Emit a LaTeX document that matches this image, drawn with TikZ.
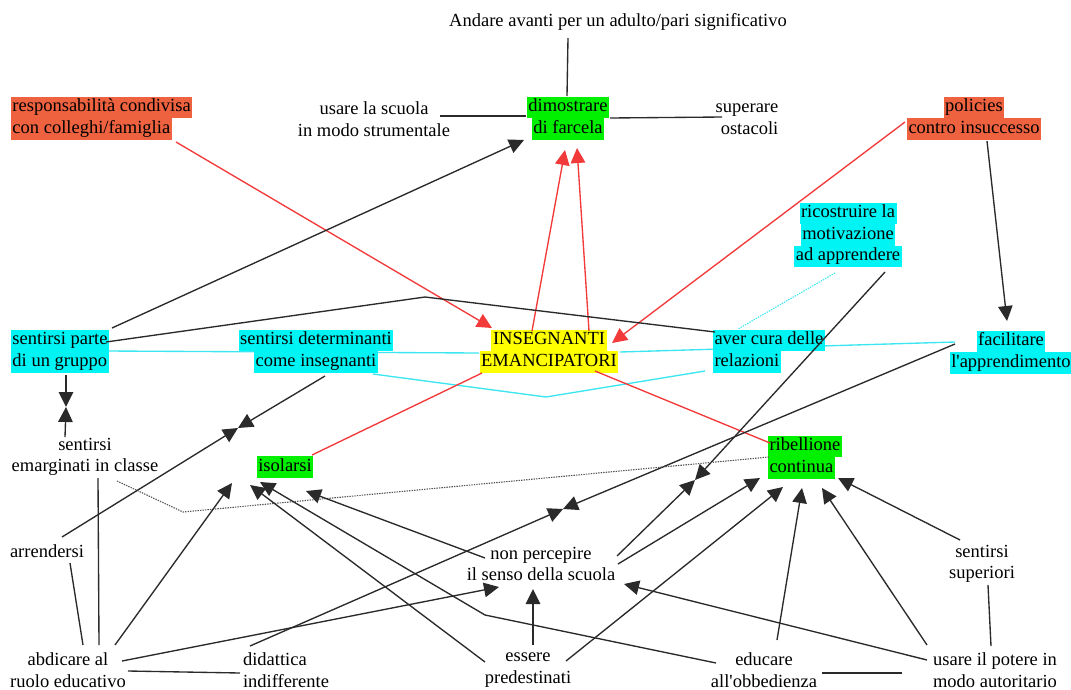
\documentclass[tikz,border=0pt]{standalone}
\usepackage{fontspec}
\setmainfont{Liberation Serif}
\usetikzlibrary{arrows.meta,backgrounds}
\definecolor{hlorange}{HTML}{EE6240}
\definecolor{hlgreen}{HTML}{00F000}
\definecolor{hlcyan}{HTML}{00F4F4}
\definecolor{hlyellow}{HTML}{FFFF00}
\definecolor{linkred}{HTML}{F23A3A}
\definecolor{linkcyan}{HTML}{3CE6F0}
\definecolor{linkgray}{HTML}{2A2A2A}
\definecolor{dotgray}{HTML}{555555}
% one highlighted line of text, boxes of consecutive lines touch
\newcommand{\hlbox}[2]{{\fboxsep=0pt\colorbox{#1}{\kern1.5pt\strut#2\kern1.5pt}}}
\begin{document}
\begin{tikzpicture}[x=1pt,y=-1pt,
  every node/.style={font=\fontsize{18.5}{21.5}\selectfont, inner sep=0pt, outer sep=0pt},
  concept/.style={align=center},
  conn/.style={draw=linkgray, line width=1.35pt},
  tipline/.style={conn, -{Triangle[length=15pt,width=14.5pt]}},
  redconn/.style={draw=linkred, line width=1.35pt},
  redtip/.style={redconn, -{Triangle[length=15pt,width=14.5pt]}},
  cyanconn/.style={draw=linkcyan, line width=1.35pt},
  dotconn/.style={draw=dotgray, line width=1.1pt, dash pattern=on 1.4pt off 1.1pt},
  cyandot/.style={draw=linkcyan, line width=1.1pt, dash pattern=on 1.4pt off 1.1pt}
]
\useasboundingbox (0,0) rectangle (1071,689);

% ---- concepts ----
\node[concept] (andare) at (618,22) {Andare avanti per un adulto/pari significativo};
\node[concept] (dim) at (568,118) {\hlbox{hlgreen}{dimostrare}\\\hlbox{hlgreen}{di farcela}};
\node[concept] (usare) at (374,119) {usare la scuola\\in modo strumentale};
\node[align=right] (sup) at (747,119) {superare\\ostacoli};
\node[align=left, anchor=west] (resp) at (11,118) {\hlbox{hlorange}{responsabilità condivisa}\\\hlbox{hlorange}{con colleghi/famiglia}};
\node[concept] (pol) at (974,118) {\hlbox{hlorange}{policies}\\\hlbox{hlorange}{contro insuccesso}};
\node[concept] (ric) at (848,235) {\hlbox{hlcyan}{ricostruire la}\\\hlbox{hlcyan}{motivazione}\\\hlbox{hlcyan}{ad apprendere}};
\node[align=left, anchor=west] (sp) at (11,351) {\hlbox{hlcyan}{sentirsi parte}\\\hlbox{hlcyan}{di un gruppo}};
\node[concept] (sd) at (316,351) {\hlbox{hlcyan}{sentirsi determinanti}\\\hlbox{hlcyan}{come insegnanti}};
\node[concept] (ins) at (549,351) {\hlbox{hlyellow}{INSEGNANTI}\\\hlbox{hlyellow}{EMANCIPATORI}};
\node[align=left, anchor=west] (ac) at (713,351) {\hlbox{hlcyan}{aver cura delle}\\\hlbox{hlcyan}{relazioni}};
\node[concept] (fac) at (1011,352) {\hlbox{hlcyan}{facilitare}\\\hlbox{hlcyan}{l\textquotesingle apprendimento}};
\node[concept] (em) at (85,457) {sentirsi\\emarginati in classe};
\node[concept] (iso) at (285,467) {\hlbox{hlgreen}{isolarsi}};
\node[align=left, anchor=west] (rib) at (768,457) {\hlbox{hlgreen}{ribellione}\\\hlbox{hlgreen}{continua}};
\node (arre) at (47,551) {arrendersi};
\node[concept] (np) at (541,564) {non percepire\\il senso della scuola};
\node[concept] (ss) at (982,564) {sentirsi\\superiori};
\node[concept] (abd) at (68,670) {abdicare al\\ruolo educativo};
\node[align=left, anchor=west] (did) at (243,670) {didattica\\indifferente};
\node[concept] (ess) at (528,670) {essere\\predestinati};
\node[concept] (edu) at (764,670) {educare\\all\textquotesingle obbedienza};
\node[concept] (pot) at (995,670) {usare il potere in\\modo autoritario};

% hidden linking points and bends
\coordinate (l1) at (66,407);
\coordinate (l2) at (238,428);
\coordinate (l3) at (695,480);
\coordinate (l4) at (563,509);
\coordinate (bendTop) at (425,297);
\coordinate (bendV) at (546,397);
\coordinate (bendDot) at (183,512);
\coordinate (bendEdu) at (485,615);

% ---- cyan links, behind the boxes ----
\begin{scope}[on background layer]
\draw[cyanconn] ([shift={(95,0)}]sp.west) -- ([shift={(-70,2)}]ins.center);
\draw[cyanconn] ([shift={(71,1)}]ins.center) -- ([shift={(-56,-10)}]fac.center);
\draw[cyanconn] ([shift={(57,23)}]sd.center) -- (bendV) -- ([shift={(-8,20)}]ac.west);
\draw[cyandot] ([shift={(-13,38)}]ric.center) -- ([shift={(25,-22)}]ac.west);
\end{scope}

% ---- top cluster ----
\draw[conn] ([shift={(-50,16)}]andare.center) -- ([shift={(-1,-22)}]dim.center);
\draw[conn] ([shift={(66,-3)}]usare.center) -- ([shift={(-42,-2)}]dim.center);
\draw[conn] ([shift={(42,0)}]dim.center) -- ([shift={(-25,-2)}]sup.center);

% ---- red links ----
\draw[redtip] ([shift={(165,24)}]resp.west) -- ([shift={(-57,-23)}]ins.center);
\draw[redtip] ([shift={(-69,4)}]pol.center) -- ([shift={(63,-8)}]ins.center);
\draw[redtip] ([shift={(-17,-20)}]ins.center) -- ([shift={(-3,32)}]dim.center);
\draw[redtip] ([shift={(40,-20)}]ins.center) -- ([shift={(9,30)}]dim.center);
\draw[redconn] ([shift={(-67,22)}]ins.center) -- ([shift={(27,-12)}]iso.center);
\draw[redconn] ([shift={(46,20)}]ins.center) -- ([shift={(2,-14)}]rib.west);

% ---- black links ----
\draw[tipline] ([shift={(101,-23)}]sp.west) -- ([shift={(-44,22)}]dim.center);
\draw[conn] ([shift={(95,-9)}]sp.west) -- (bendTop) -- ([shift={(2,-19)}]ac.west);
\draw[tipline] ([shift={(13,23)}]pol.center) -- ([shift={(-4,-31)}]fac.center);

% pairs meeting at hidden linking points
\draw[tipline] ([shift={(55,24)}]sp.west) -- (l1);
\draw[tipline] ([shift={(-20,-20)}]em.center) -- (l1);
\draw[tipline] ([shift={(9,25)}]sd.center) -- (l2);
\draw[tipline] ([shift={(15,-14)}]arre.center) -- (l2);
\draw[tipline] ([shift={(37,37)}]ric.center) -- (l3);
\draw[tipline] ([shift={(76,-8)}]np.center) -- (l3);
\draw[tipline] ([shift={(-56,-8)}]fac.center) -- (l4);
\draw[tipline] ([shift={(7,-24)}]did.west) -- (l4);

% dotted link
\draw[dotconn] ([shift={(32,24)}]em.center) -- (bendDot) -- ([shift={(1,0)}]rib.west);

% into "isolarsi"
\draw[tipline] ([shift={(47,-25)}]abd.center) -- ([shift={(-53,16)}]iso.center);
\draw[tipline] ([shift={(-43,-8)}]ess.center) -- ([shift={(-35,18)}]iso.center);
\draw[tipline] ([shift={(-48,-7)}]edu.center) -- (bendEdu) -- ([shift={(-25,15)}]iso.center);
\draw[tipline] ([shift={(-56,-6)}]np.center) -- ([shift={(21,24)}]iso.center);

% into "non percepire il senso della scuola"
\draw[tipline] ([shift={(54,-9)}]abd.center) -- ([shift={(-42,23)}]np.center);
\draw[tipline] ([shift={(5,-25)}]ess.center) -- ([shift={(-8,25)}]np.center);
\draw[tipline] ([shift={(-68,-10)}]pot.center) -- ([shift={(83,20)}]np.center);

% into "ribellione continua"
\draw[tipline] ([shift={(77,0)}]np.center) -- ([shift={(-8,21)}]rib.west);
\draw[tipline] ([shift={(38,-9)}]ess.center) -- ([shift={(15,30)}]rib.west);
\draw[tipline] ([shift={(13,-30)}]edu.center) -- ([shift={(34,31)}]rib.west);
\draw[tipline] ([shift={(-68,-25)}]pot.center) -- ([shift={(54,31)}]rib.west);
\draw[tipline] ([shift={(-22,-24)}]ss.center) -- ([shift={(70,21)}]rib.west);

% plain links at the bottom
\draw[conn] ([shift={(23,12)}]arre.center) -- ([shift={(15,-25)}]abd.center);
\draw[conn] ([shift={(13,21)}]em.center) -- ([shift={(31,-25)}]abd.center);
\draw[conn] ([shift={(60,1)}]abd.center) -- ([shift={(-3,3)}]did.west);
\draw[conn] ([shift={(58,3)}]edu.center) -- ([shift={(-93,3)}]pot.center);
\draw[conn] ([shift={(6,21)}]ss.center) -- ([shift={(-4,-24)}]pot.center);
\end{tikzpicture}
\end{document}
